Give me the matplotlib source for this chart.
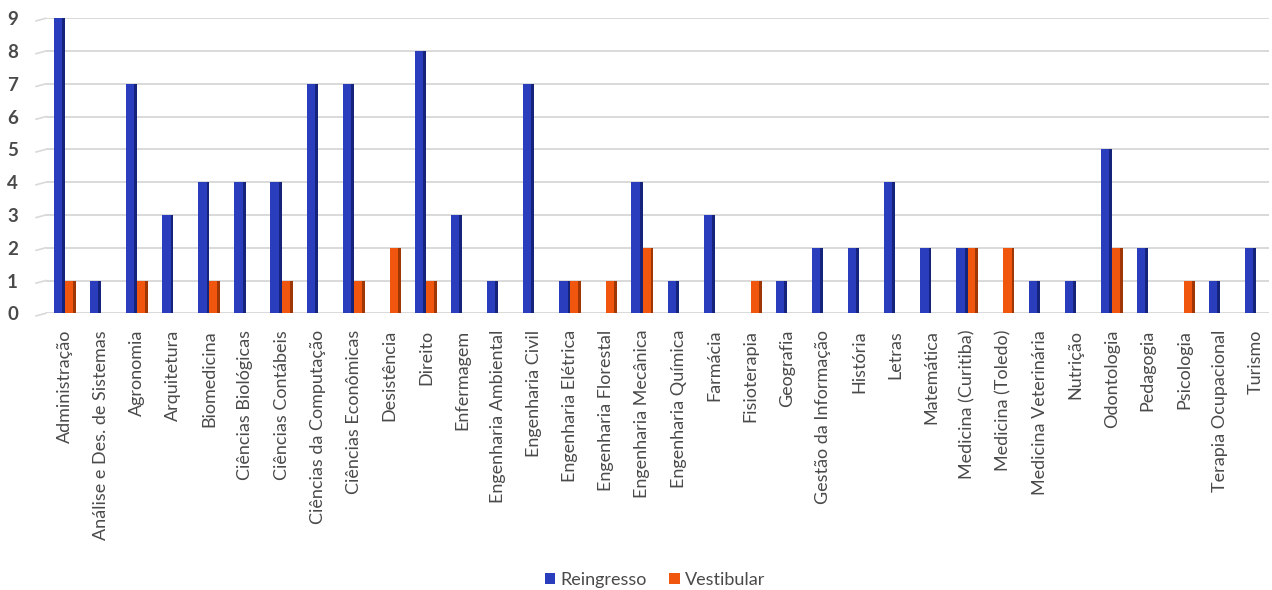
import matplotlib.pyplot as plt
import numpy as np

# categories and counts
cursos = [
    "Administração", "Análise e Des. de Sistemas", "Agronomia", "Arquitetura",
    "Biomedicina", "Ciências Biológicas", "Ciências Contábeis",
    "Ciências da Computação", "Ciências Econômicas", "Desistência", "Direito",
    "Enfermagem", "Engenharia Ambiental", "Engenharia Civil",
    "Engenharia Elétrica", "Engenharia Florestal", "Engenharia Mecânica",
    "Engenharia Química", "Farmácia", "Fisioterapia", "Geografia",
    "Gestão da Informação", "História", "Letras", "Matemática",
    "Medicina (Curitiba)", "Medicina (Toledo)", "Medicina Veterinária",
    "Nutrição", "Odontologia", "Pedagogia", "Psicologia",
    "Terapia Ocupacional", "Turismo",
]
reingresso = [9, 1, 7, 3, 4, 4, 4, 7, 7, 0, 8, 3, 1, 7, 1, 0, 4, 1, 3, 0, 1,
              2, 2, 4, 2, 2, 0, 1, 1, 5, 2, 0, 1, 2]
vestibular = [1, 0, 1, 0, 1, 0, 1, 0, 1, 2, 1, 0, 0, 0, 1, 1, 2, 0, 0, 1, 0,
              0, 0, 0, 0, 2, 2, 0, 0, 2, 0, 1, 0, 0]
yticks = list(range(0, 10))

plt.rcParams['font.family'] = ['Lato', 'DejaVu Sans']

fig = plt.figure(figsize=(12.72, 5.9), dpi=100)
ax = fig.add_axes([0.036, 0.469, 0.962, 0.5])

x = np.arange(len(cursos))
w = 0.31
side = 0.08

series = [
    (reingresso, -0.15, "#2a3dbd", "#16237a", "Reingresso"),
    (vestibular, 0.15, "#f0560e", "#9e3606", "Vestibular"),
]
for vals, off, face, dark, name in series:
    vals = np.array(vals)
    ax.bar(x + off, vals, width=w, color=face, label=name, zorder=3)
    # darker right face to mimic the 3D column look
    ax.bar(x + off + w / 2 - side / 2, vals, width=side, color=dark, zorder=4)

ax.set_xlim(-0.53, len(cursos) - 0.63)
ax.set_ylim(0, 9)
ax.set_yticks(yticks)
ax.set_xticks(x)
ax.set_xticklabels(cursos, rotation=90, fontsize=13, color="#4a4a4a")
ax.tick_params(axis='y', labelsize=13.5, colors="#4a4a4a", length=0, pad=20)
ax.tick_params(axis='x', length=0, pad=12)
for lbl in ax.get_yticklabels():
    lbl.set_fontweight('bold')

ax.grid(axis='y', color="#d9d9d9", linewidth=1.4, zorder=0)
for s in ax.spines.values():
    s.set_visible(False)

# small slanted ticks at the left of every gridline (3D floor edge)
for yv in yticks:
    ax.plot([-0.8, -0.53], [yv - 0.08, yv], color="#d9d9d9", linewidth=1.2,
            clip_on=False, zorder=0)

h, l = ax.get_legend_handles_labels()
fig.legend(h[:2], l[:2], loc='center', bbox_to_anchor=(0.515, 0.017), ncol=2,
           frameon=False, fontsize=13, handlelength=0.6, handleheight=0.6,
           columnspacing=1.2, handletextpad=0.3, labelcolor="#4a4a4a")

fig.savefig("out.png", dpi=100)
